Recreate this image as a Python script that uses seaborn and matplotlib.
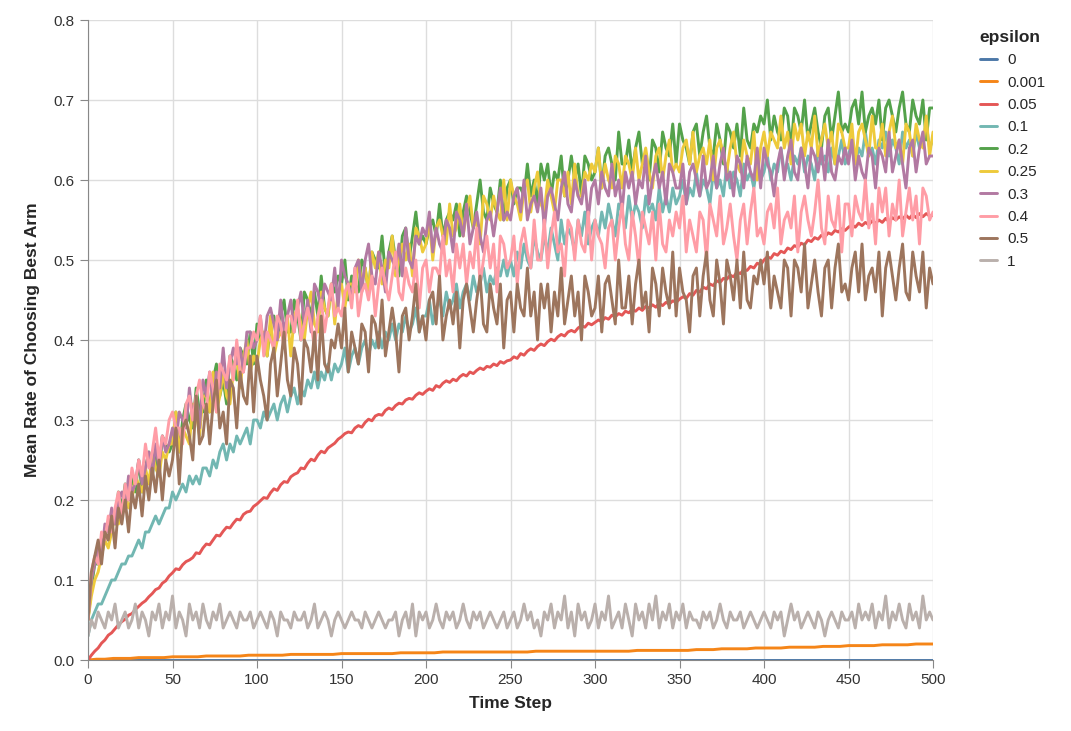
import pandas as pd
import matplotlib.pyplot as plt
import seaborn as sns

# time steps: every 2nd step for the noisy curves,
# every 5th step for the two flat ones at the bottom
steps_fine = list(range(0, 501, 2))
steps_coarse = list(range(0, 501, 5))

eps_labels = ["0", "0.001", "0.05", "0.1", "0.2", "0.25", "0.3", "0.4", "0.5", "1"]
eps_colors = ["#4c78a8", "#f58518", "#e45756", "#72b7b2", "#54a24b",
              "#eeca3b", "#b279a2", "#ff9da6", "#9d755d", "#bab0ac"]

# ---- coarse series (t = 0, 5, ..., 500) ----
eps_0 = [0.0, 0.0, 0.0, 0.0, 0.0, 0.0, 0.0, 0.0, 0.0, 0.0,
         0.0, 0.0, 0.0, 0.0, 0.0, 0.0, 0.0, 0.0, 0.0, 0.0,
         0.0, 0.0, 0.0, 0.0, 0.0, 0.0, 0.0, 0.0, 0.0, 0.0,
         0.0, 0.0, 0.0, 0.0, 0.0, 0.0, 0.0, 0.0, 0.0, 0.0,
         0.0, 0.0, 0.0, 0.0, 0.0, 0.0, 0.0, 0.0, 0.0, 0.0,
         0.0, 0.0, 0.0, 0.0, 0.0, 0.0, 0.0, 0.0, 0.0, 0.0,
         0.0, 0.0, 0.0, 0.0, 0.0, 0.0, 0.0, 0.0, 0.0, 0.0,
         0.0, 0.0, 0.0, 0.0, 0.0, 0.0, 0.0, 0.0, 0.0, 0.0,
         0.0, 0.0, 0.0, 0.0, 0.0, 0.0, 0.0, 0.0, 0.0, 0.0,
         0.0, 0.0, 0.0, 0.0, 0.0, 0.0, 0.0, 0.0, 0.0, 0.0,
         0.0]

eps_0001 = [0.0, 0.001, 0.001, 0.002, 0.002, 0.002, 0.003, 0.003, 0.003, 0.003,
            0.004, 0.004, 0.004, 0.004, 0.005, 0.005, 0.005, 0.005, 0.005, 0.006,
            0.006, 0.006, 0.006, 0.006, 0.007, 0.007, 0.007, 0.007, 0.007, 0.007,
            0.008, 0.008, 0.008, 0.008, 0.008, 0.008, 0.008, 0.009, 0.009, 0.009,
            0.009, 0.009, 0.010, 0.010, 0.010, 0.010, 0.010, 0.010, 0.010, 0.010,
            0.010, 0.010, 0.010, 0.011, 0.011, 0.011, 0.011, 0.011, 0.011, 0.011,
            0.011, 0.011, 0.011, 0.011, 0.011, 0.012, 0.012, 0.012, 0.012, 0.012,
            0.012, 0.012, 0.013, 0.013, 0.013, 0.014, 0.014, 0.014, 0.014, 0.015,
            0.015, 0.015, 0.015, 0.016, 0.016, 0.016, 0.016, 0.017, 0.017, 0.017,
            0.018, 0.018, 0.018, 0.018, 0.019, 0.019, 0.019, 0.019, 0.020, 0.020,
            0.020]

# ---- fine series (t = 0, 2, ..., 500), one row per 50 steps ----
eps_005 = [0.0, 0.006, 0.011, 0.015, 0.021, 0.025, 0.031, 0.034, 0.039, 0.044, 0.048, 0.051, 0.056, 0.058, 0.063, 0.067, 0.071, 0.074, 0.079, 0.083, 0.088, 0.09, 0.096, 0.099, 0.105,
           0.109, 0.114, 0.113, 0.119, 0.123, 0.125, 0.128, 0.134, 0.133, 0.14, 0.145, 0.144, 0.15, 0.156, 0.155, 0.161, 0.166, 0.165, 0.171, 0.176, 0.175, 0.182, 0.185, 0.186, 0.192,
           0.195, 0.199, 0.203, 0.202, 0.209, 0.214, 0.212, 0.219, 0.223, 0.222, 0.229, 0.232, 0.234, 0.24, 0.239, 0.246, 0.251, 0.249, 0.256, 0.261, 0.259, 0.265, 0.268, 0.271, 0.276,
           0.279, 0.283, 0.285, 0.284, 0.29, 0.293, 0.291, 0.297, 0.301, 0.299, 0.305, 0.307, 0.306, 0.312, 0.315, 0.313, 0.318, 0.321, 0.32, 0.325, 0.327, 0.326, 0.331, 0.334, 0.332,
           0.336, 0.339, 0.337, 0.343, 0.341, 0.346, 0.349, 0.347, 0.351, 0.349, 0.354, 0.357, 0.355, 0.36, 0.358, 0.362, 0.365, 0.363, 0.367, 0.366, 0.37, 0.368, 0.373, 0.371, 0.374,
           0.375, 0.379, 0.377, 0.383, 0.381, 0.386, 0.389, 0.387, 0.392, 0.395, 0.393, 0.398, 0.401, 0.399, 0.404, 0.407, 0.405, 0.41, 0.412, 0.41, 0.415, 0.418, 0.416, 0.421, 0.419,
           0.422, 0.425, 0.423, 0.428, 0.426, 0.431, 0.429, 0.433, 0.431, 0.436, 0.434, 0.438, 0.436, 0.44, 0.437, 0.442, 0.44, 0.444, 0.441, 0.446, 0.443, 0.447, 0.445, 0.449, 0.447,
           0.451, 0.454, 0.452, 0.458, 0.456, 0.462, 0.46, 0.466, 0.464, 0.47, 0.468, 0.474, 0.472, 0.477, 0.476, 0.481, 0.479, 0.485, 0.483, 0.488, 0.487, 0.492, 0.49, 0.496, 0.494,
           0.5, 0.504, 0.502, 0.508, 0.506, 0.511, 0.509, 0.515, 0.513, 0.518, 0.516, 0.521, 0.519, 0.525, 0.523, 0.528, 0.526, 0.531, 0.529, 0.534, 0.532, 0.537, 0.535, 0.539, 0.537,
           0.541, 0.544, 0.541, 0.546, 0.543, 0.547, 0.544, 0.549, 0.546, 0.55, 0.547, 0.552, 0.548, 0.553, 0.55, 0.554, 0.551, 0.556, 0.552, 0.557, 0.553, 0.558, 0.554, 0.558, 0.555,
           0.556]

eps_01 = [0.03, 0.05, 0.06, 0.07, 0.07, 0.08, 0.09, 0.10, 0.10, 0.11, 0.12, 0.12, 0.13, 0.13, 0.14, 0.15, 0.14, 0.16, 0.16, 0.17, 0.18, 0.17, 0.18, 0.19, 0.19,
          0.21, 0.20, 0.21, 0.22, 0.21, 0.23, 0.22, 0.23, 0.22, 0.24, 0.24, 0.23, 0.25, 0.24, 0.26, 0.27, 0.25, 0.27, 0.26, 0.28, 0.27, 0.28, 0.29, 0.27, 0.30,
          0.30, 0.29, 0.31, 0.30, 0.31, 0.32, 0.30, 0.32, 0.33, 0.31, 0.33, 0.34, 0.32, 0.34, 0.33, 0.35, 0.34, 0.36, 0.34, 0.36, 0.35, 0.37, 0.35, 0.37, 0.36,
          0.37, 0.39, 0.36, 0.38, 0.39, 0.37, 0.39, 0.40, 0.38, 0.40, 0.39, 0.41, 0.39, 0.41, 0.40, 0.42, 0.40, 0.42, 0.41, 0.43, 0.41, 0.42, 0.44, 0.41, 0.43,
          0.43, 0.45, 0.42, 0.44, 0.45, 0.43, 0.46, 0.44, 0.45, 0.47, 0.44, 0.46, 0.47, 0.45, 0.48, 0.46, 0.47, 0.49, 0.46, 0.48, 0.47, 0.49, 0.48, 0.50, 0.48,
          0.50, 0.48, 0.51, 0.49, 0.52, 0.50, 0.49, 0.53, 0.51, 0.50, 0.53, 0.51, 0.54, 0.52, 0.50, 0.55, 0.52, 0.54, 0.53, 0.51, 0.55, 0.53, 0.56, 0.52, 0.54,
          0.55, 0.53, 0.56, 0.54, 0.57, 0.55, 0.53, 0.57, 0.56, 0.54, 0.58, 0.55, 0.57, 0.56, 0.54, 0.58, 0.56, 0.57, 0.55, 0.59, 0.56, 0.58, 0.56, 0.59, 0.57,
          0.58, 0.60, 0.57, 0.59, 0.58, 0.61, 0.58, 0.60, 0.59, 0.57, 0.61, 0.59, 0.60, 0.58, 0.62, 0.59, 0.61, 0.60, 0.58, 0.62, 0.60, 0.61, 0.59, 0.62, 0.60,
          0.61, 0.63, 0.60, 0.62, 0.61, 0.64, 0.61, 0.62, 0.60, 0.63, 0.62, 0.64, 0.61, 0.63, 0.62, 0.60, 0.64, 0.62, 0.63, 0.61, 0.64, 0.62, 0.63, 0.65, 0.62,
          0.63, 0.65, 0.62, 0.64, 0.63, 0.66, 0.63, 0.64, 0.62, 0.65, 0.64, 0.66, 0.63, 0.65, 0.64, 0.62, 0.66, 0.64, 0.65, 0.63, 0.66, 0.64, 0.65, 0.67, 0.64,
          0.65]

eps_02 = [0.05, 0.09, 0.12, 0.12, 0.15, 0.16, 0.15, 0.18, 0.17, 0.21, 0.19, 0.22, 0.20, 0.23, 0.21, 0.25, 0.21, 0.24, 0.26, 0.23, 0.26, 0.23, 0.28, 0.27, 0.26,
          0.27, 0.31, 0.26, 0.30, 0.32, 0.30, 0.29, 0.34, 0.31, 0.31, 0.35, 0.31, 0.35, 0.37, 0.33, 0.35, 0.32, 0.38, 0.37, 0.35, 0.39, 0.38, 0.37, 0.41, 0.37,
          0.42, 0.40, 0.40, 0.38, 0.42, 0.43, 0.40, 0.43, 0.45, 0.41, 0.41, 0.45, 0.43, 0.40, 0.46, 0.45, 0.43, 0.46, 0.43, 0.48, 0.44, 0.43, 0.47, 0.46, 0.48,
          0.47, 0.50, 0.45, 0.48, 0.47, 0.46, 0.50, 0.49, 0.46, 0.51, 0.50, 0.49, 0.53, 0.48, 0.51, 0.53, 0.50, 0.48, 0.53, 0.54, 0.50, 0.53, 0.56, 0.52, 0.53,
          0.52, 0.54, 0.55, 0.53, 0.57, 0.53, 0.55, 0.56, 0.55, 0.57, 0.53, 0.56, 0.58, 0.56, 0.54, 0.57, 0.60, 0.56, 0.55, 0.59, 0.57, 0.56, 0.60, 0.55, 0.59,
          0.60, 0.57, 0.59, 0.59, 0.58, 0.62, 0.58, 0.60, 0.57, 0.62, 0.60, 0.62, 0.58, 0.61, 0.60, 0.63, 0.58, 0.60, 0.63, 0.60, 0.62, 0.58, 0.63, 0.62, 0.60,
          0.61, 0.64, 0.59, 0.63, 0.64, 0.62, 0.60, 0.66, 0.62, 0.62, 0.65, 0.61, 0.64, 0.66, 0.62, 0.63, 0.60, 0.65, 0.64, 0.61, 0.66, 0.64, 0.63, 0.67, 0.62,
          0.67, 0.65, 0.64, 0.62, 0.66, 0.67, 0.63, 0.66, 0.68, 0.64, 0.63, 0.67, 0.65, 0.62, 0.67, 0.66, 0.64, 0.67, 0.63, 0.69, 0.65, 0.64, 0.67, 0.66, 0.68,
          0.67, 0.70, 0.65, 0.68, 0.66, 0.65, 0.69, 0.68, 0.64, 0.69, 0.68, 0.66, 0.70, 0.65, 0.67, 0.69, 0.66, 0.64, 0.68, 0.69, 0.65, 0.68, 0.71, 0.66, 0.67,
          0.66, 0.69, 0.70, 0.67, 0.71, 0.66, 0.68, 0.69, 0.67, 0.70, 0.65, 0.69, 0.70, 0.68, 0.66, 0.69, 0.71, 0.67, 0.66, 0.70, 0.68, 0.67, 0.70, 0.65, 0.69,
          0.69]

eps_025 = [0.05, 0.08, 0.10, 0.11, 0.13, 0.15, 0.14, 0.16, 0.18, 0.17, 0.18, 0.21, 0.19, 0.20, 0.23, 0.22, 0.21, 0.24, 0.22, 0.26, 0.24, 0.23, 0.26, 0.25, 0.27,
           0.27, 0.31, 0.26, 0.29, 0.28, 0.27, 0.32, 0.31, 0.28, 0.33, 0.33, 0.31, 0.36, 0.31, 0.33, 0.36, 0.33, 0.32, 0.36, 0.38, 0.34, 0.38, 0.40, 0.36, 0.38,
           0.37, 0.40, 0.41, 0.38, 0.43, 0.38, 0.40, 0.41, 0.40, 0.43, 0.38, 0.43, 0.44, 0.42, 0.40, 0.44, 0.46, 0.42, 0.41, 0.46, 0.44, 0.43, 0.47, 0.42, 0.46,
           0.47, 0.44, 0.47, 0.47, 0.46, 0.50, 0.47, 0.49, 0.46, 0.51, 0.49, 0.51, 0.47, 0.50, 0.49, 0.53, 0.48, 0.50, 0.52, 0.50, 0.52, 0.48, 0.54, 0.53, 0.51,
           0.52, 0.55, 0.50, 0.54, 0.55, 0.53, 0.52, 0.57, 0.53, 0.54, 0.57, 0.53, 0.56, 0.58, 0.54, 0.55, 0.52, 0.58, 0.57, 0.55, 0.58, 0.56, 0.55, 0.60, 0.55,
           0.60, 0.58, 0.57, 0.55, 0.59, 0.60, 0.56, 0.59, 0.61, 0.57, 0.56, 0.60, 0.58, 0.56, 0.60, 0.60, 0.58, 0.61, 0.57, 0.62, 0.58, 0.58, 0.61, 0.60, 0.62,
           0.61, 0.64, 0.59, 0.62, 0.60, 0.59, 0.63, 0.62, 0.59, 0.63, 0.62, 0.60, 0.64, 0.60, 0.62, 0.64, 0.61, 0.59, 0.63, 0.64, 0.60, 0.63, 0.65, 0.61, 0.62,
           0.61, 0.64, 0.65, 0.62, 0.66, 0.61, 0.63, 0.64, 0.62, 0.65, 0.60, 0.64, 0.65, 0.63, 0.61, 0.64, 0.66, 0.62, 0.61, 0.65, 0.63, 0.62, 0.66, 0.60, 0.64,
           0.66, 0.63, 0.66, 0.65, 0.64, 0.68, 0.64, 0.66, 0.62, 0.67, 0.65, 0.67, 0.63, 0.66, 0.64, 0.68, 0.63, 0.65, 0.67, 0.64, 0.66, 0.62, 0.67, 0.66, 0.64,
           0.64, 0.67, 0.62, 0.66, 0.67, 0.65, 0.63, 0.68, 0.64, 0.64, 0.67, 0.63, 0.66, 0.68, 0.64, 0.65, 0.62, 0.67, 0.66, 0.63, 0.67, 0.65, 0.64, 0.68, 0.63,
           0.66]

eps_03 = [0.05, 0.10, 0.12, 0.14, 0.13, 0.17, 0.16, 0.19, 0.17, 0.20, 0.21, 0.19, 0.23, 0.21, 0.22, 0.25, 0.22, 0.24, 0.26, 0.23, 0.27, 0.24, 0.28, 0.26, 0.27,
          0.29, 0.27, 0.31, 0.30, 0.29, 0.34, 0.30, 0.33, 0.29, 0.35, 0.33, 0.36, 0.32, 0.36, 0.34, 0.39, 0.34, 0.37, 0.39, 0.37, 0.39, 0.36, 0.41, 0.41, 0.39,
          0.40, 0.43, 0.39, 0.43, 0.44, 0.42, 0.40, 0.45, 0.41, 0.43, 0.45, 0.41, 0.44, 0.46, 0.42, 0.45, 0.41, 0.47, 0.46, 0.44, 0.47, 0.46, 0.45, 0.49, 0.44,
          0.50, 0.48, 0.47, 0.45, 0.49, 0.50, 0.46, 0.50, 0.52, 0.48, 0.47, 0.51, 0.49, 0.46, 0.51, 0.50, 0.49, 0.52, 0.48, 0.54, 0.50, 0.49, 0.53, 0.52, 0.54,
          0.53, 0.56, 0.51, 0.54, 0.52, 0.51, 0.55, 0.54, 0.51, 0.56, 0.55, 0.53, 0.57, 0.52, 0.54, 0.56, 0.53, 0.51, 0.55, 0.56, 0.53, 0.56, 0.59, 0.55, 0.56,
          0.55, 0.58, 0.59, 0.56, 0.60, 0.55, 0.57, 0.58, 0.56, 0.59, 0.54, 0.58, 0.59, 0.57, 0.55, 0.59, 0.61, 0.57, 0.56, 0.60, 0.58, 0.57, 0.60, 0.55, 0.59,
          0.60, 0.57, 0.61, 0.59, 0.58, 0.62, 0.58, 0.60, 0.56, 0.61, 0.59, 0.61, 0.57, 0.60, 0.59, 0.63, 0.57, 0.60, 0.62, 0.59, 0.61, 0.57, 0.62, 0.61, 0.59,
          0.59, 0.62, 0.57, 0.61, 0.62, 0.60, 0.58, 0.63, 0.59, 0.60, 0.63, 0.59, 0.62, 0.64, 0.60, 0.61, 0.58, 0.63, 0.62, 0.59, 0.63, 0.61, 0.60, 0.64, 0.59,
          0.64, 0.62, 0.61, 0.58, 0.62, 0.64, 0.60, 0.63, 0.65, 0.61, 0.60, 0.64, 0.62, 0.59, 0.64, 0.63, 0.61, 0.64, 0.60, 0.65, 0.61, 0.60, 0.63, 0.62, 0.64,
          0.62, 0.65, 0.60, 0.63, 0.61, 0.60, 0.64, 0.63, 0.59, 0.64, 0.63, 0.61, 0.66, 0.61, 0.63, 0.65, 0.62, 0.59, 0.64, 0.65, 0.61, 0.64, 0.66, 0.62, 0.63,
          0.63]

eps_04 = [0.05, 0.11, 0.13, 0.12, 0.16, 0.15, 0.18, 0.16, 0.19, 0.21, 0.18, 0.22, 0.20, 0.24, 0.22, 0.25, 0.23, 0.27, 0.24, 0.26, 0.29, 0.25, 0.28, 0.27, 0.30,
          0.31, 0.29, 0.29, 0.27, 0.32, 0.33, 0.30, 0.33, 0.35, 0.32, 0.31, 0.36, 0.34, 0.31, 0.37, 0.36, 0.35, 0.38, 0.35, 0.40, 0.36, 0.36, 0.39, 0.39, 0.41,
          0.40, 0.43, 0.38, 0.41, 0.40, 0.39, 0.43, 0.42, 0.39, 0.43, 0.43, 0.41, 0.45, 0.40, 0.42, 0.44, 0.42, 0.39, 0.43, 0.45, 0.41, 0.44, 0.47, 0.43, 0.44,
          0.43, 0.46, 0.47, 0.44, 0.49, 0.43, 0.46, 0.47, 0.45, 0.48, 0.43, 0.47, 0.49, 0.47, 0.45, 0.48, 0.51, 0.46, 0.45, 0.49, 0.47, 0.46, 0.50, 0.44, 0.49,
          0.50, 0.46, 0.49, 0.49, 0.48, 0.53, 0.48, 0.50, 0.46, 0.52, 0.49, 0.52, 0.47, 0.51, 0.49, 0.54, 0.47, 0.50, 0.53, 0.49, 0.52, 0.46, 0.53, 0.52, 0.49,
          0.50, 0.53, 0.47, 0.52, 0.54, 0.51, 0.49, 0.55, 0.50, 0.50, 0.55, 0.49, 0.53, 0.56, 0.51, 0.52, 0.48, 0.55, 0.54, 0.50, 0.55, 0.52, 0.51, 0.56, 0.50,
          0.55, 0.53, 0.52, 0.49, 0.54, 0.55, 0.50, 0.54, 0.57, 0.52, 0.50, 0.56, 0.53, 0.49, 0.56, 0.54, 0.52, 0.56, 0.50, 0.57, 0.52, 0.51, 0.55, 0.53, 0.56,
          0.54, 0.58, 0.51, 0.55, 0.53, 0.51, 0.56, 0.55, 0.50, 0.57, 0.55, 0.53, 0.58, 0.52, 0.54, 0.57, 0.53, 0.50, 0.55, 0.57, 0.52, 0.56, 0.59, 0.53, 0.54,
          0.52, 0.56, 0.57, 0.54, 0.59, 0.52, 0.55, 0.56, 0.54, 0.58, 0.51, 0.56, 0.58, 0.55, 0.53, 0.56, 0.60, 0.54, 0.52, 0.58, 0.55, 0.54, 0.58, 0.51, 0.57,
          0.57, 0.53, 0.58, 0.56, 0.55, 0.60, 0.54, 0.57, 0.52, 0.59, 0.56, 0.59, 0.53, 0.57, 0.55, 0.60, 0.53, 0.56, 0.59, 0.55, 0.58, 0.52, 0.59, 0.58, 0.55,
          0.56]

eps_05 = [0.05, 0.11, 0.13, 0.15, 0.12, 0.16, 0.15, 0.18, 0.14, 0.19, 0.17, 0.20, 0.16, 0.21, 0.19, 0.22, 0.18, 0.23, 0.20, 0.24, 0.21, 0.25, 0.20, 0.25, 0.23,
          0.25, 0.29, 0.22, 0.29, 0.30, 0.28, 0.25, 0.33, 0.27, 0.28, 0.32, 0.27, 0.32, 0.35, 0.29, 0.31, 0.27, 0.35, 0.34, 0.29, 0.36, 0.33, 0.32, 0.38, 0.31,
          0.38, 0.35, 0.33, 0.30, 0.37, 0.39, 0.33, 0.37, 0.41, 0.35, 0.33, 0.39, 0.37, 0.32, 0.40, 0.39, 0.36, 0.41, 0.35, 0.43, 0.37, 0.36, 0.40, 0.39, 0.42,
          0.39, 0.44, 0.36, 0.41, 0.39, 0.37, 0.42, 0.41, 0.36, 0.43, 0.42, 0.39, 0.45, 0.38, 0.41, 0.44, 0.41, 0.36, 0.43, 0.44, 0.40, 0.43, 0.47, 0.41, 0.43,
          0.40, 0.45, 0.46, 0.42, 0.48, 0.40, 0.43, 0.45, 0.42, 0.46, 0.39, 0.45, 0.47, 0.44, 0.41, 0.45, 0.48, 0.42, 0.41, 0.47, 0.44, 0.42, 0.47, 0.39, 0.45,
          0.46, 0.41, 0.47, 0.44, 0.43, 0.49, 0.43, 0.46, 0.40, 0.47, 0.44, 0.47, 0.41, 0.46, 0.43, 0.49, 0.42, 0.45, 0.48, 0.43, 0.46, 0.40, 0.48, 0.46, 0.43,
          0.44, 0.48, 0.41, 0.47, 0.48, 0.45, 0.42, 0.50, 0.44, 0.44, 0.48, 0.42, 0.47, 0.50, 0.44, 0.46, 0.41, 0.49, 0.47, 0.43, 0.49, 0.46, 0.44, 0.51, 0.43,
          0.49, 0.46, 0.45, 0.41, 0.48, 0.49, 0.43, 0.48, 0.51, 0.45, 0.43, 0.50, 0.47, 0.42, 0.50, 0.48, 0.45, 0.50, 0.44, 0.51, 0.45, 0.44, 0.48, 0.47, 0.50,
          0.47, 0.51, 0.44, 0.48, 0.46, 0.44, 0.50, 0.49, 0.43, 0.50, 0.49, 0.46, 0.52, 0.44, 0.47, 0.50, 0.46, 0.43, 0.49, 0.50, 0.44, 0.49, 0.52, 0.46, 0.47,
          0.45, 0.49, 0.51, 0.46, 0.52, 0.45, 0.48, 0.49, 0.46, 0.51, 0.43, 0.49, 0.51, 0.48, 0.45, 0.49, 0.52, 0.46, 0.45, 0.51, 0.48, 0.46, 0.51, 0.44, 0.49,
          0.47]

eps_1 = [0.03, 0.05, 0.04, 0.06, 0.05, 0.04, 0.06, 0.05, 0.07, 0.04, 0.05, 0.06, 0.04, 0.05, 0.07, 0.04, 0.06, 0.05, 0.03, 0.06, 0.05, 0.07, 0.04, 0.06, 0.05,
         0.08, 0.04, 0.06, 0.05, 0.03, 0.07, 0.05, 0.06, 0.04, 0.07, 0.05, 0.04, 0.06, 0.05, 0.07, 0.04, 0.05, 0.06, 0.05, 0.04, 0.06, 0.05, 0.05, 0.06, 0.04,
         0.05, 0.06, 0.05, 0.04, 0.06, 0.05, 0.03, 0.06, 0.05, 0.05, 0.04, 0.06, 0.05, 0.05, 0.06, 0.04, 0.05, 0.07, 0.04, 0.05, 0.06, 0.05, 0.03, 0.05, 0.06,
         0.05, 0.04, 0.05, 0.06, 0.05, 0.05, 0.04, 0.06, 0.05, 0.04, 0.05, 0.06, 0.05, 0.04, 0.05, 0.05, 0.06, 0.03, 0.05, 0.06, 0.04, 0.07, 0.03, 0.06, 0.05,
         0.06, 0.04, 0.05, 0.07, 0.05, 0.04, 0.06, 0.05, 0.06, 0.04, 0.05, 0.07, 0.05, 0.04, 0.06, 0.05, 0.06, 0.04, 0.05, 0.06, 0.05, 0.04, 0.05, 0.06, 0.04,
         0.05, 0.06, 0.04, 0.05, 0.07, 0.05, 0.06, 0.04, 0.05, 0.03, 0.06, 0.05, 0.07, 0.04, 0.06, 0.05, 0.08, 0.04, 0.06, 0.03, 0.07, 0.05, 0.06, 0.04, 0.05,
         0.07, 0.04, 0.06, 0.05, 0.08, 0.04, 0.05, 0.06, 0.04, 0.07, 0.05, 0.03, 0.07, 0.05, 0.06, 0.04, 0.07, 0.05, 0.08, 0.04, 0.06, 0.05, 0.07, 0.04, 0.06,
         0.05, 0.07, 0.04, 0.06, 0.05, 0.05, 0.04, 0.06, 0.05, 0.06, 0.04, 0.05, 0.07, 0.05, 0.04, 0.06, 0.05, 0.05, 0.06, 0.04, 0.05, 0.06, 0.05, 0.04, 0.05,
         0.06, 0.05, 0.04, 0.06, 0.05, 0.06, 0.03, 0.05, 0.07, 0.05, 0.06, 0.04, 0.05, 0.06, 0.05, 0.04, 0.06, 0.05, 0.03, 0.05, 0.06, 0.05, 0.04, 0.06, 0.05,
         0.05, 0.06, 0.04, 0.07, 0.05, 0.06, 0.05, 0.07, 0.04, 0.06, 0.05, 0.08, 0.04, 0.06, 0.05, 0.07, 0.05, 0.04, 0.07, 0.05, 0.06, 0.04, 0.08, 0.05, 0.06,
         0.05]

series = [eps_0, eps_0001, eps_005, eps_01, eps_02,
          eps_025, eps_03, eps_04, eps_05, eps_1]

# long format for seaborn
frames = []
for lab, vals in zip(eps_labels, series):
    t = steps_coarse if len(vals) == len(steps_coarse) else steps_fine
    frames.append(pd.DataFrame({"Time Step": t, "rate": vals, "epsilon": lab}))
df = pd.concat(frames, ignore_index=True)

sns.set_style("white")
plt.rcParams["font.family"] = ["Liberation Sans", "DejaVu Sans"]

fig = plt.figure(figsize=(10.71, 7.31), dpi=100)
ax = fig.add_axes([88 / 1071, 1 - 660 / 731, 845 / 1071, 640 / 731])

sns.lineplot(data=df, x="Time Step", y="rate", hue="epsilon",
             hue_order=eps_labels, palette=eps_colors, linewidth=2.1, ax=ax)

ax.set_xlim(0, 500)
ax.set_ylim(0, 0.8)
ax.set_xticks(range(0, 501, 50))
ax.set_yticks([i / 10 for i in range(9)])
ax.set_yticklabels([f"{i / 10:.1f}" for i in range(9)])
ax.grid(True, color="#dddddd", linewidth=1)
ax.set_axisbelow(True)
for s in ["top", "right"]:
    ax.spines[s].set_visible(False)
for s in ["left", "bottom"]:
    ax.spines[s].set_color("#888888")
ax.tick_params(direction="out", length=6, color="#888888", labelsize=11,
               labelcolor="#333333", left=True, bottom=True)

ax.set_xlabel("Time Step", fontsize=12.5, fontweight="bold", labelpad=6)
ax.set_ylabel("Mean Rate of Choosing Best Arm", fontsize=12.5, fontweight="bold", labelpad=10)

sns.move_legend(ax, "upper left", bbox_to_anchor=(966 / 1071, 1 - 16 / 731),
                bbox_transform=fig.transFigure, frameon=False, title="epsilon",
                fontsize=11, title_fontproperties={"weight": "bold", "size": 12.5},
                handlelength=1.1, handletextpad=0.7, labelspacing=0.55,
                alignment="left")

fig.savefig("out.png", dpi=100)
